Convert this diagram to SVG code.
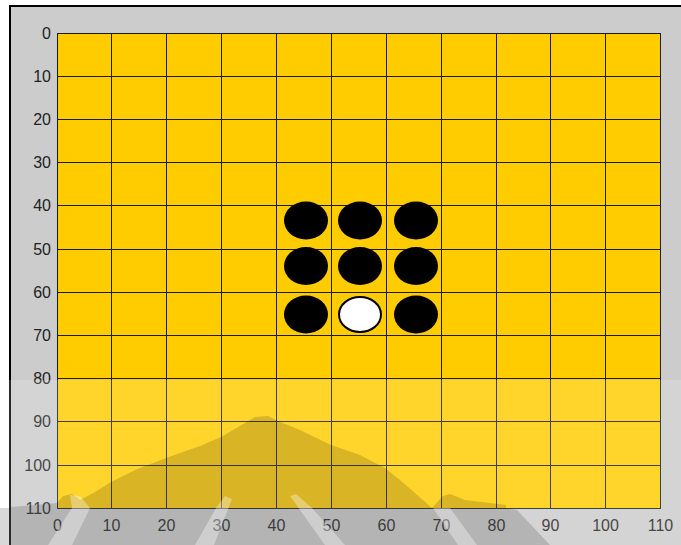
<svg xmlns="http://www.w3.org/2000/svg" width="681" height="545" viewBox="0 0 681 545">
<style>
.lbl{font-family:"Liberation Sans",Arial,sans-serif;font-size:16px;fill:#222}
.yl{text-anchor:end}
.xl{text-anchor:middle}
.grid line{stroke:#1a1a1a;stroke-width:1}
.blk{fill:#000}
.wht{fill:#fff;stroke:#000;stroke-width:2}
</style>
<rect x="0" y="0" width="681" height="545" fill="#ffffff"/>
<rect x="10" y="6" width="671" height="539" fill="#cccccc"/>
<line x1="9" y1="6" x2="681" y2="6" stroke="#000" stroke-width="2"/>
<line x1="10" y1="5" x2="10" y2="545" stroke="#000" stroke-width="2"/>
<g id="board">
<rect x="57.5" y="33.5" width="603" height="475" fill="#ffcc00" stroke="#1a1a1a" stroke-width="1"/>
<g class="grid">
<line x1="111.5" y1="33" x2="111.5" y2="509"/>
<line x1="166.5" y1="33" x2="166.5" y2="509"/>
<line x1="221.5" y1="33" x2="221.5" y2="509"/>
<line x1="276.5" y1="33" x2="276.5" y2="509"/>
<line x1="331.5" y1="33" x2="331.5" y2="509"/>
<line x1="386.5" y1="33" x2="386.5" y2="509"/>
<line x1="441.5" y1="33" x2="441.5" y2="509"/>
<line x1="496.5" y1="33" x2="496.5" y2="509"/>
<line x1="550.5" y1="33" x2="550.5" y2="509"/>
<line x1="605.5" y1="33" x2="605.5" y2="509"/>
<line x1="57" y1="76.5" x2="661" y2="76.5"/>
<line x1="57" y1="119.5" x2="661" y2="119.5"/>
<line x1="57" y1="162.5" x2="661" y2="162.5"/>
<line x1="57" y1="205.5" x2="661" y2="205.5"/>
<line x1="57" y1="249.5" x2="661" y2="249.5"/>
<line x1="57" y1="292.5" x2="661" y2="292.5"/>
<line x1="57" y1="335.5" x2="661" y2="335.5"/>
<line x1="57" y1="378.5" x2="661" y2="378.5"/>
<line x1="57" y1="421.5" x2="661" y2="421.5"/>
<line x1="57" y1="465.5" x2="661" y2="465.5"/>
</g>
</g>
<g id="discs">
<ellipse id="d1" class="blk" cx="306" cy="220.5" rx="22" ry="19"/>
<ellipse id="d2" class="blk" cx="360" cy="220.5" rx="22" ry="19"/>
<ellipse id="d3" class="blk" cx="416" cy="220.5" rx="22" ry="19"/>
<ellipse id="d4" class="blk" cx="306" cy="266" rx="22" ry="19"/>
<ellipse id="d5" class="blk" cx="360" cy="266" rx="22" ry="19"/>
<ellipse id="d6" class="blk" cx="416" cy="266" rx="22" ry="19"/>
<ellipse id="d7" class="blk" cx="306" cy="314.5" rx="22" ry="19"/>
<ellipse id="d8" class="wht" cx="360" cy="314.5" rx="21" ry="17.5"/>
<ellipse id="d9" class="blk" cx="416" cy="314.5" rx="22" ry="19"/>
</g>
<g id="ylabels" class="lbl yl">
<text x="51" y="39">0</text>
<text x="51" y="82">10</text>
<text x="51" y="125">20</text>
<text x="51" y="168">30</text>
<text x="51" y="211">40</text>
<text x="51" y="255">50</text>
<text x="51" y="298">60</text>
<text x="51" y="341">70</text>
<text x="51" y="384">80</text>
<text x="51" y="427">90</text>
<text x="51" y="471">100</text>
<text x="51" y="514">110</text>
</g>
<g id="xlabels" class="lbl xl">
<text x="57.5" y="531">0</text>
<text x="111.5" y="531">10</text>
<text x="166.5" y="531">20</text>
<text x="221.5" y="531">30</text>
<text x="276.5" y="531">40</text>
<text x="331.5" y="531">50</text>
<text x="386.5" y="531">60</text>
<text x="441.5" y="531">70</text>
<text x="496.5" y="531">80</text>
<text x="550.5" y="531">90</text>
<text x="605.5" y="531">100</text>
<text x="660.5" y="531">110</text>
</g>
<g id="watermark">
<rect x="0" y="380" width="681" height="165" fill="#ffffff" opacity="0.17"/>
<polygon fill="#000" opacity="0.15" points="11,507 57,503 63,496 72,494 80,500 95,492 111,482 135,470 166,458 200,446 221,437 245,423 255,417 268,416 278,421 300,430 331,445 360,455 385,468 400,480 415,493 432,508 443,496 450,494 465,500 490,503 506,505 506,508 517,510 550,545 11,545"/>
<polygon fill="#fff" opacity="0.35" points="48,545 72,545 90,508 80,496 70,495 72,508"/>
<polygon fill="#fff" opacity="0.35" points="195,545 214,545 232,499 225,496 216,508"/>
<polygon fill="#fff" opacity="0.35" points="290,496 296,494 312,508 345,545 325,545 300,510"/>
<polygon fill="#fff" opacity="0.35" points="433,508 450,508 477,545 458,545"/>
<rect x="0" y="508" width="9" height="37" fill="#d8d8d8"/>
</g>
</svg>
